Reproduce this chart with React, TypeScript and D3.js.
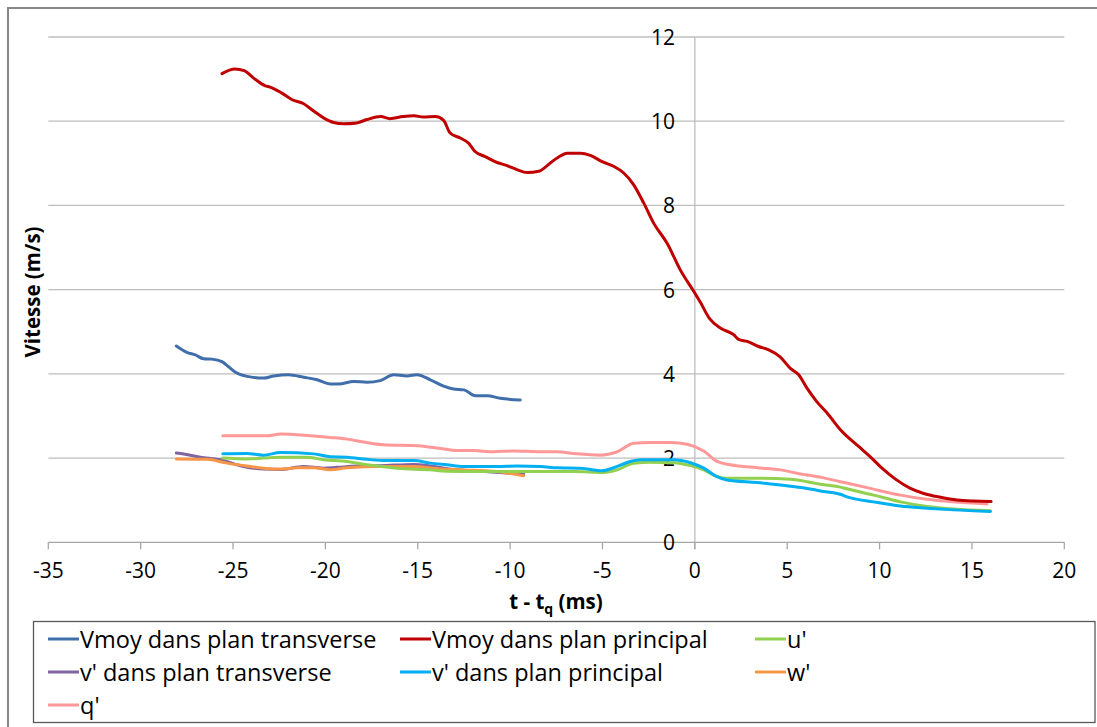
import React from "react";
import * as d3 from "d3";

type P = [number, number];

const vmoyTransverse: P[] = [
  [-28.07, 4.66], [-27.5, 4.51], [-27.04, 4.45], [-26.6, 4.36], [-26.14, 4.35], [-25.6, 4.29],
  [-25.24, 4.17], [-24.87, 4.04], [-24.24, 3.94], [-23.35, 3.9], [-22.8, 3.95], [-21.99, 3.98],
  [-21.18, 3.92], [-20.45, 3.86], [-19.73, 3.76], [-19.28, 3.76], [-18.47, 3.82], [-17.75, 3.8],
  [-17.03, 3.84], [-16.3, 3.98], [-15.58, 3.95], [-15.04, 3.98], [-14.32, 3.86], [-13.6, 3.71],
  [-13.06, 3.64], [-12.5, 3.62], [-11.88, 3.48], [-11.25, 3.48], [-10.53, 3.42], [-9.45, 3.38],
];

const vmoyPrincipal: P[] = [
  [-25.6, 11.13], [-24.9, 11.24], [-24.4, 11.2], [-23.9, 11.03], [-23.25, 10.84], [-23.0, 10.81],
  [-22.4, 10.68], [-21.8, 10.51], [-21.2, 10.42], [-20.6, 10.23], [-20.1, 10.08], [-19.55, 9.97],
  [-19.0, 9.94], [-18.3, 9.96], [-17.75, 10.04], [-17.0, 10.11], [-16.5, 10.06], [-15.8, 10.11],
  [-15.2, 10.13], [-14.7, 10.1], [-14.05, 10.11], [-13.6, 10.02], [-13.25, 9.72], [-12.7, 9.6],
  [-12.25, 9.48], [-11.9, 9.28], [-11.35, 9.16], [-10.7, 9.02], [-10.2, 8.95], [-9.63, 8.85],
  [-9.08, 8.78], [-8.45, 8.81], [-8.09, 8.91], [-7.73, 9.04], [-7.37, 9.15], [-6.92, 9.24],
  [-6.2, 9.24], [-5.66, 9.19], [-5.02, 9.04], [-4.4, 8.93], [-3.85, 8.77], [-3.31, 8.49],
  [-2.77, 8.06], [-2.23, 7.58], [-1.5, 7.1], [-0.79, 6.47], [-0.06, 5.96], [0.3, 5.7],
  [0.8, 5.31], [1.38, 5.09], [2.1, 4.93], [2.37, 4.82], [2.83, 4.77], [3.45, 4.65], [4.0, 4.57],
  [4.63, 4.4], [5.17, 4.13], [5.62, 3.98], [6.07, 3.66], [6.6, 3.34], [7.16, 3.07], [7.88, 2.67],
  [8.96, 2.24], [9.5, 2.03], [10.13, 1.76], [10.86, 1.5], [11.67, 1.28], [12.39, 1.16],
  [13.3, 1.07], [14.2, 1.005], [15.1, 0.98], [16.04, 0.97],
];

const uPrime: P[] = [
  [-25.55, 2.0], [-24.25, 1.98], [-23.35, 2.0], [-22.44, 2.02], [-21.0, 2.02], [-20.1, 1.96],
  [-18.83, 1.92], [-17.75, 1.84], [-16.12, 1.76], [-14.32, 1.72], [-13.42, 1.69], [-11.61, 1.68],
  [-9.81, 1.68], [-8.36, 1.68], [-6.56, 1.68], [-4.94, 1.66], [-4.2, 1.72], [-3.31, 1.88],
  [-2.41, 1.9], [-1.15, 1.89], [-0.24, 1.82], [0.48, 1.72], [1.2, 1.56], [1.74, 1.52],
  [3.37, 1.52], [5.17, 1.5], [6.07, 1.44], [6.8, 1.38], [7.88, 1.31], [8.24, 1.27], [9.68, 1.12],
  [11.13, 0.96], [12.57, 0.85], [14.0, 0.79], [16.0, 0.75],
];

const vPrimeTransverse: P[] = [
  [-28.07, 2.12], [-27.86, 2.11], [-26.77, 2.02], [-25.69, 1.96], [-24.43, 1.8], [-23.35, 1.74],
  [-22.44, 1.73], [-21.18, 1.8], [-20.1, 1.76], [-19.37, 1.78], [-18.29, 1.81], [-17.03, 1.82],
  [-15.22, 1.85], [-14.14, 1.8], [-13.06, 1.73], [-11.61, 1.69], [-9.27, 1.62],
];

const vPrimePrincipal: P[] = [
  [-25.55, 2.1], [-24.25, 2.11], [-23.35, 2.07], [-22.44, 2.13], [-20.63, 2.1], [-19.73, 2.03],
  [-18.83, 2.02], [-17.75, 1.97], [-16.66, 1.94], [-15.22, 1.94], [-14.32, 1.88], [-13.42, 1.84],
  [-12.52, 1.8], [-10.71, 1.8], [-9.63, 1.81], [-8.36, 1.8], [-7.46, 1.77], [-6.2, 1.76],
  [-5.02, 1.7], [-4.4, 1.77], [-3.49, 1.92], [-2.95, 1.96], [-1.15, 1.96], [-0.24, 1.89],
  [0.48, 1.76], [1.2, 1.56], [1.74, 1.48], [3.37, 1.42], [4.63, 1.36], [6.07, 1.28], [6.8, 1.22],
  [7.88, 1.14], [8.24, 1.08], [9.68, 0.96], [11.13, 0.86], [12.57, 0.81], [14.0, 0.77], [16.0, 0.73],
];

const wPrime: P[] = [
  [-28.07, 1.98], [-26.41, 1.97], [-25.33, 1.88], [-24.25, 1.81], [-23.35, 1.76], [-22.44, 1.74],
  [-21.54, 1.77], [-20.63, 1.77], [-19.73, 1.72], [-18.83, 1.77], [-17.03, 1.8], [-15.22, 1.8],
  [-13.78, 1.74], [-12.52, 1.72], [-10.71, 1.68], [-9.27, 1.58],
];

const qPrime: P[] = [
  [-25.55, 2.53], [-24.25, 2.53], [-23.16, 2.53], [-22.44, 2.57], [-20.82, 2.53], [-19.73, 2.49],
  [-18.83, 2.45], [-17.93, 2.38], [-16.66, 2.31], [-15.22, 2.3], [-13.78, 2.23], [-12.88, 2.18],
  [-11.98, 2.18], [-10.9, 2.15], [-9.81, 2.17], [-8.36, 2.15], [-7.46, 2.15], [-6.56, 2.11],
  [-5.12, 2.07], [-4.2, 2.15], [-3.31, 2.35], [-2.41, 2.37], [-1.33, 2.37], [-0.42, 2.33],
  [0.48, 2.17], [1.2, 1.92], [1.92, 1.84], [3.37, 1.77], [4.63, 1.72], [5.53, 1.64],
  [6.97, 1.53], [7.88, 1.44], [9.5, 1.28], [11.13, 1.12], [12.57, 1.02], [14.0, 0.96], [15.82, 0.91],
];

const seriesNames = [
  "Vmoy dans plan transverse",
  "Vmoy dans plan principal",
  "u'",
  "v' dans plan transverse",
  "v' dans plan principal",
  "w'",
  "q'",
];
const seriesColors = ["#3F6EAA", "#C00000", "#92D050", "#8064A2", "#00B0F0", "#F79646", "#FF9999"];
const seriesData = [vmoyTransverse, vmoyPrincipal, uPrime, vPrimeTransverse, vPrimePrincipal, wPrime, qPrime];
const drawOrder = [0, 3, 5, 2, 4, 6, 1];

const xTicks = [-35, -30, -25, -20, -15, -10, -5, 0, 5, 10, 15, 20];
const yTicks = [0, 2, 4, 6, 8, 10, 12];

const FONT = "'Open Sans', Lato, sans-serif";

export default function App() {
  const x = d3.scaleLinear().domain([-35, 20]).range([48.3, 1064.3]);
  const y = d3.scaleLinear().domain([0, 12]).range([542.3, 37]);
  const line = d3
    .line<P>()
    .x((d) => x(d[0]))
    .y((d) => y(d[1]))
    .curve(d3.curveMonotoneX);

  const legendCols = [48, 400, 755];
  const legendRows = [639, 672, 705];

  return (
    <svg
      width={1097}
      height={727}
      style={{ position: "absolute", left: 0, top: 0, background: "#fff" }}
      fontFamily={FONT}
    >
      <rect x={0} y={0} width={1097} height={727} fill="#fff" />
      <rect x={8} y={8} width={1100} height={730} fill="none" stroke="#878787" strokeWidth={2} />
      {yTicks.filter((t) => t !== 0).map((t) => (
        <line key={"g" + t} x1={x(-35)} x2={x(20)} y1={y(t)} y2={y(t)} stroke="#BEBEBE" strokeWidth={1.3} />
      ))}
      <line x1={x(0)} x2={x(0)} y1={y(12)} y2={y(0) + 7} stroke="#BEBEBE" strokeWidth={1.3} />
      <line x1={x(-35)} x2={x(20)} y1={y(0)} y2={y(0)} stroke="#A6A6A6" strokeWidth={1.3} />
      {xTicks.map((t) => (
        <g key={"xt" + t}>
          <line x1={x(t)} x2={x(t)} y1={y(0)} y2={y(0) + 7} stroke="#A6A6A6" strokeWidth={1.3} />
          <text x={x(t)} y={570} textAnchor="middle" dominantBaseline="central" fontSize={21} fill="#000">
            {t}
          </text>
        </g>
      ))}
      {yTicks.map((t) => (
        <text key={"yt" + t} x={675} y={y(t)} textAnchor="end" dominantBaseline="central" fontSize={21} fill="#000">
          {t}
        </text>
      ))}
      {drawOrder.map((i) => (
        <path
          key={"s" + i}
          d={line(seriesData[i]) || ""}
          fill="none"
          stroke={seriesColors[i]}
          strokeWidth={3}
          strokeLinejoin="round"
          strokeLinecap="round"
        />
      ))}
      <text x={556} y={609} textAnchor="middle" fontSize={20.5} fontWeight="bold" fill="#000">
        t - t<tspan fontSize={14} dy={5}>q</tspan>
        <tspan dy={-5}> (ms)</tspan>
      </text>
      <text
        transform={`translate(32,292) rotate(-90)`}
        textAnchor="middle"
        dominantBaseline="central"
        fontSize={20.5}
        fontWeight="bold"
        fill="#000"
      >
        Vitesse (m/s)
      </text>
      <rect x={33.5} y={621.5} width={1061.5} height={101} fill="#fff" stroke="#595959" strokeWidth={1.3} />
      {seriesNames.map((name, i) => {
        const col = i % 3;
        const row = Math.floor(i / 3);
        const lx = legendCols[col];
        const ly = legendRows[row];
        return (
          <g key={"l" + i}>
            <line x1={lx} x2={lx + 31} y1={ly} y2={ly} stroke={seriesColors[i]} strokeWidth={3} />
            <text x={lx + 32} y={ly} dominantBaseline="central" fontSize={23.5} fill="#000">
              {name}
            </text>
          </g>
        );
      })}
    </svg>
  );
}
